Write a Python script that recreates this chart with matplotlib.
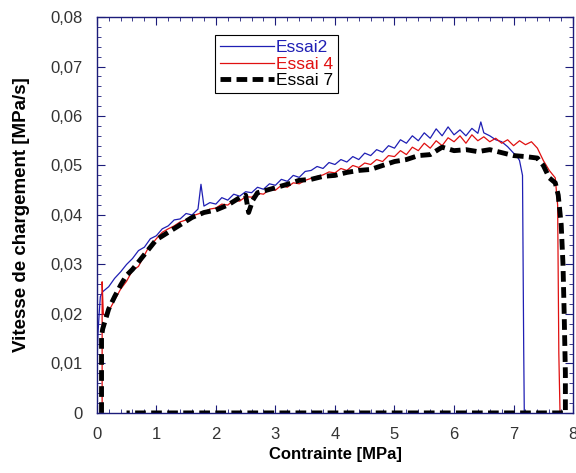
import matplotlib
matplotlib.use("Agg")
import matplotlib.pyplot as plt
from matplotlib.ticker import MultipleLocator, FuncFormatter

plt.rcParams['font.family'] = ['Liberation Sans', 'DejaVu Sans']

# Essai2 (blue)
x2 = [0.00, 0.02, 0.04, 0.06, 0.10, 0.15, 0.20, 0.30, 0.40, 0.50, 0.60, 0.70, 0.80, 0.90,
      1.00, 1.10, 1.20, 1.30, 1.40, 1.50, 1.60, 1.70, 1.75, 1.80, 1.90, 2.00, 2.10, 2.20,
      2.30, 2.40, 2.50, 2.60, 2.70, 2.80, 2.90, 3.00, 3.10, 3.20, 3.30, 3.40, 3.50, 3.60,
      3.70, 3.80, 3.90, 4.00, 4.10, 4.20, 4.30, 4.40, 4.50, 4.60, 4.70, 4.80, 4.90, 5.00,
      5.10, 5.20, 5.30, 5.40, 5.50, 5.60, 5.70, 5.80, 5.90, 6.00, 6.10, 6.20, 6.30, 6.40,
      6.45, 6.50, 6.60, 6.70, 6.80, 6.90, 7.00, 7.05, 7.10, 7.15, 7.17, 7.18]
y2 = [0.009, 0.016, 0.020, 0.0235, 0.0245, 0.0250, 0.0255, 0.0272, 0.0285, 0.0300, 0.0312,
      0.0328, 0.0335, 0.0352, 0.0358, 0.0372, 0.0378, 0.0390, 0.0392, 0.0403, 0.0400, 0.0412,
      0.0462, 0.0418, 0.0425, 0.0422, 0.0435, 0.0430, 0.0442, 0.0438, 0.0447, 0.0445, 0.0456,
      0.0452, 0.0463, 0.0460, 0.0472, 0.0468, 0.0480, 0.0476, 0.0488, 0.0490, 0.0498, 0.0494,
      0.0506, 0.0502, 0.0512, 0.0507, 0.0518, 0.0512, 0.0525, 0.0520, 0.0532, 0.0527, 0.0540,
      0.0535, 0.0552, 0.0545, 0.0560, 0.0550, 0.0566, 0.0555, 0.0574, 0.0560, 0.0578, 0.0562,
      0.0572, 0.0560, 0.0575, 0.0565, 0.0588, 0.0566, 0.0560, 0.0552, 0.0548, 0.0538, 0.0525,
      0.0520, 0.0510, 0.0480, 0.0130, 0.0]

# Essai 4 (red)
x4 = [0.09, 0.09, 0.11, 0.15, 0.22, 0.30, 0.40, 0.50, 0.60, 0.70, 0.85, 1.00, 1.10, 1.20,
      1.30, 1.40, 1.50, 1.60, 1.70, 1.80, 1.90, 2.00, 2.10, 2.20, 2.30, 2.40, 2.50, 2.60,
      2.70, 2.80, 2.90, 3.00, 3.10, 3.20, 3.30, 3.40, 3.50, 3.60, 3.70, 3.80, 3.90, 4.00,
      4.10, 4.20, 4.30, 4.40, 4.50, 4.60, 4.70, 4.80, 4.90, 5.00, 5.10, 5.20, 5.30, 5.40,
      5.50, 5.60, 5.70, 5.80, 5.90, 6.00, 6.10, 6.20, 6.30, 6.40, 6.50, 6.60, 6.70, 6.80,
      6.90, 7.00, 7.10, 7.20, 7.30, 7.40, 7.50, 7.60, 7.70, 7.74, 7.76, 7.78]
y4 = [0.0, 0.0265, 0.0200, 0.0195, 0.0210, 0.0228, 0.0250, 0.0266, 0.0288, 0.0296, 0.0330,
      0.0352, 0.0365, 0.0372, 0.0378, 0.0386, 0.0390, 0.0398, 0.0402, 0.0406, 0.0412, 0.0414,
      0.0422, 0.0420, 0.0430, 0.0428, 0.0437, 0.0436, 0.0444, 0.0442, 0.0452, 0.0450, 0.0460,
      0.0456, 0.0465, 0.0463, 0.0470, 0.0474, 0.0478, 0.0481, 0.0487, 0.0485, 0.0494, 0.0490,
      0.0500, 0.0496, 0.0505, 0.0502, 0.0512, 0.0508, 0.0520, 0.0518, 0.0530, 0.0522, 0.0537,
      0.0530, 0.0545, 0.0535, 0.0550, 0.0540, 0.0556, 0.0548, 0.0560, 0.0545, 0.0562, 0.0550,
      0.0558, 0.0548, 0.0555, 0.0545, 0.0552, 0.0540, 0.0550, 0.0542, 0.0548, 0.0535, 0.0510,
      0.0490, 0.0475, 0.0420, 0.0120, 0.0]

# Essai 7 (black dashed)
x7 = [0.08, 0.08, 0.10, 0.15, 0.20, 0.30, 0.40, 0.50, 0.60, 0.70, 0.80, 0.90, 1.00, 1.20,
      1.40, 1.60, 1.80, 2.00, 2.20, 2.40, 2.50, 2.55, 2.62, 2.70, 2.85, 3.00, 3.20, 3.40,
      3.60, 3.80, 4.00, 4.20, 4.40, 4.60, 4.80, 5.00, 5.20, 5.40, 5.60, 5.80, 6.00, 6.20,
      6.40, 6.60, 6.80, 7.00, 7.20, 7.40, 7.50, 7.60, 7.70, 7.75, 7.80, 7.83, 7.85, 7.87,
      7.87, 0.50]
y7 = [0.0, 0.0155, 0.0170, 0.0190, 0.0210, 0.0235, 0.0258, 0.0278, 0.0290, 0.0305, 0.0320,
      0.0335, 0.0350, 0.0365, 0.0380, 0.0395, 0.0405, 0.0410, 0.0420, 0.0435, 0.0440, 0.0405,
      0.0430, 0.0445, 0.0450, 0.0455, 0.0462, 0.0470, 0.0472, 0.0478, 0.0480, 0.0486, 0.0490,
      0.0492, 0.0500, 0.0508, 0.0512, 0.0520, 0.0522, 0.0537, 0.0530, 0.0532, 0.0528, 0.0532,
      0.0526, 0.0520, 0.0518, 0.0515, 0.0500, 0.0475, 0.0465, 0.0440, 0.0380, 0.0300, 0.0200,
      0.0080, 0.0, 0.0]

navy = '#1c1c7a'

fig = plt.figure(figsize=(5.76, 4.73), dpi=100)
ax = fig.add_axes([0.168, 0.127, 0.827, 0.837])

ax.plot(x2, y2, color='#1f1fb4', lw=0.9, label='Essai2')
ax.plot(x4, y4, color='#e01010', lw=0.9, label='Essai 4')
ax.plot(x7, y7, color='black', lw=3.5, dashes=(2.2, 1.1), label='Essai 7')

ax.set_xlim(0, 8)
ax.set_ylim(0, 0.08)
ax.xaxis.set_major_locator(MultipleLocator(1))
ax.xaxis.set_minor_locator(MultipleLocator(0.2))
ax.yaxis.set_major_locator(MultipleLocator(0.01))
ax.yaxis.set_minor_locator(MultipleLocator(0.002))
ax.yaxis.set_major_formatter(FuncFormatter(lambda v, p: '0' if abs(v) < 1e-9 else f'{v:.2f}'.replace('.', ',')))

for s in ax.spines.values():
    s.set_color(navy)
    s.set_linewidth(1.0)
ax.tick_params(which='both', direction='in', top=True, right=True, color=navy,
               labelsize=12, labelcolor='#333333')
ax.tick_params(which='major', length=6, pad=10)
ax.tick_params(which='minor', length=3)

ax.set_xlabel('Contrainte [MPa]', fontsize=12, fontweight='bold', labelpad=4)
ax.set_ylabel('Vitesse de chargement [MPa/s]', fontsize=13.5, fontweight='bold')
ax.yaxis.set_label_coords(-0.14, 0.5)

leg = ax.legend(loc='upper left', bbox_to_anchor=(0.248, 0.955), fontsize=12.5,
                fancybox=False, framealpha=1, edgecolor='black', handlelength=3.1,
                borderpad=0.3, labelspacing=0.08, handletextpad=0.1, borderaxespad=0)
leg.get_frame().set_linewidth(0.8)
for t, c in zip(leg.get_texts(), ['#1f1fb4', '#e01010', 'black']):
    t.set_color(c)

fig.savefig('out.png', dpi=100)
